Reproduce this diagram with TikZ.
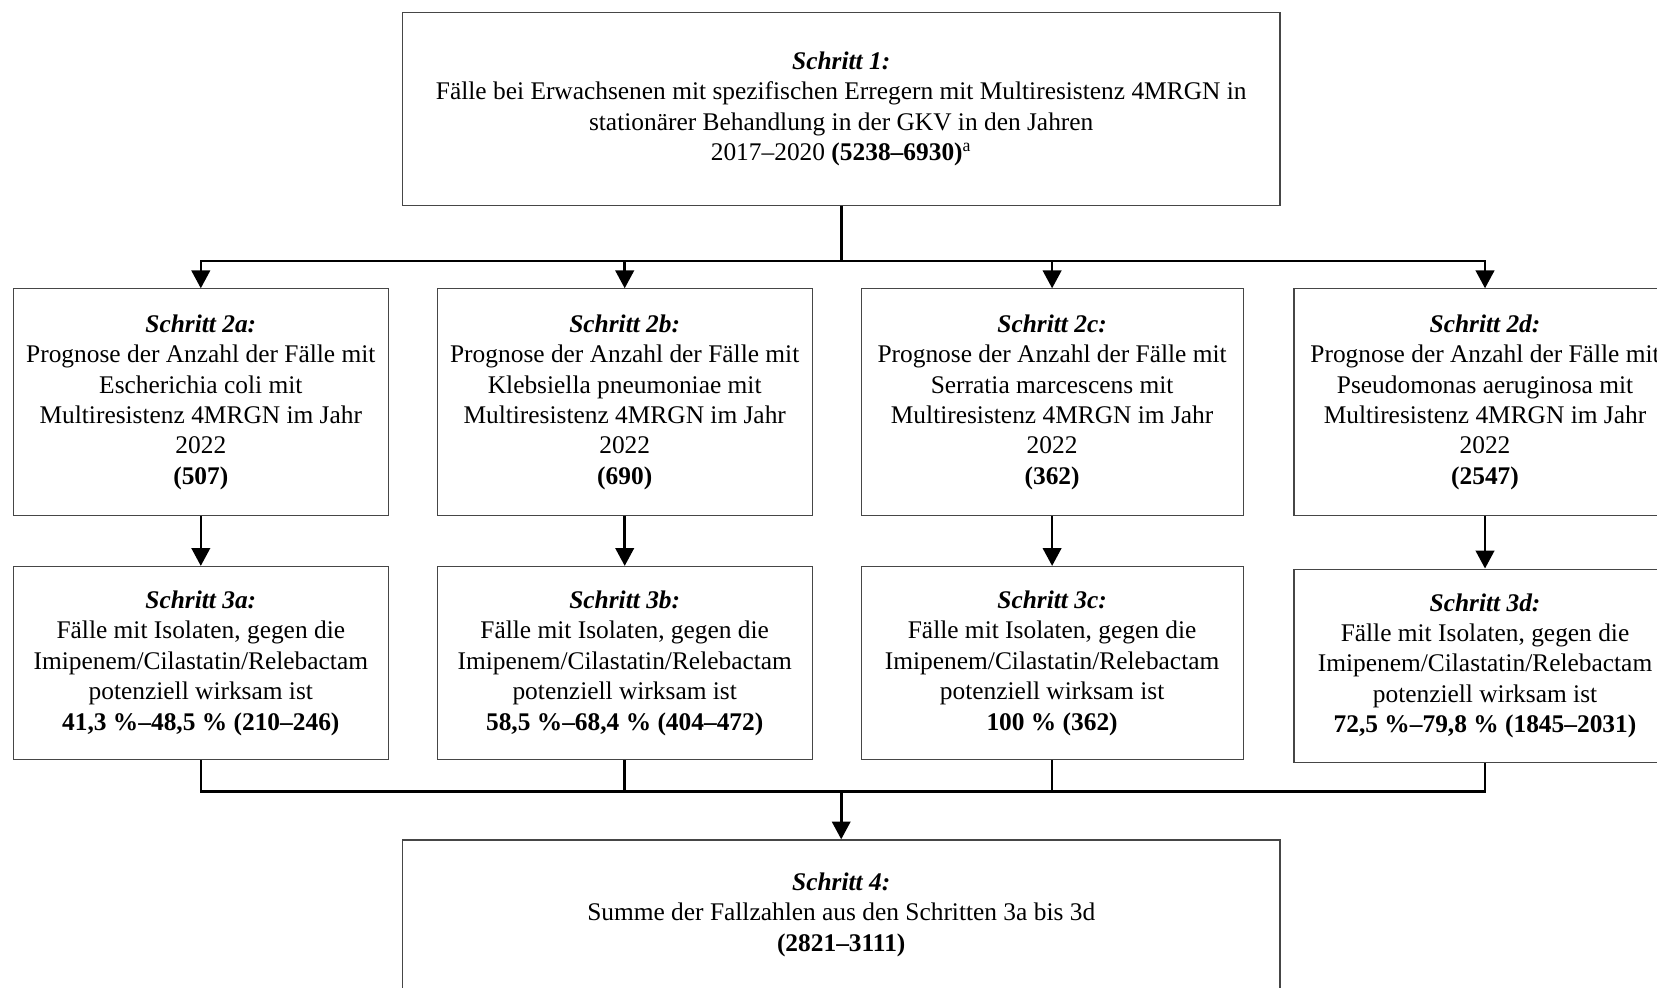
\documentclass[tikz,border=0pt]{standalone}
\usepackage{fontspec}
\setmainfont{Liberation Serif}
\usepackage{tikz}
\usetikzlibrary{positioning, arrows.meta, calc}
\definecolor{frame}{RGB}{70,70,70}

\begin{document}
\begin{tikzpicture}[
  node distance=24.85pt and 23.85pt,
  box/.style={draw=frame, line width=0.6pt, inner sep=2pt, align=center,
              font=\fontsize{12.7pt}{15.2pt}\selectfont},
  bigbox/.style={box, minimum width=438.85pt},
  midbox/.style={box, minimum width=187.5pt, minimum height=113.35pt},
  lowbox/.style={box, minimum width=187.5pt, minimum height=96.65pt},
  wide/.style={minimum width=191pt},
  line/.style={line width=1.3pt, black},
  arr/.style={line, -{Triangle[length=8.9pt, width=9.2pt]}},
]
  \useasboundingbox (0,0) rectangle (828.5pt,-494pt);
  \clip (0,0) rectangle (828.5pt,-494pt);

  \node[bigbox, minimum height=96.35pt, anchor=north] (s1) at (420.6pt,-6pt)
    {\textbf{\textit{Schritt 1:}}\\Fälle bei Erwachsenen mit spezifischen Erregern mit Multiresistenz 4MRGN in\\stationärer Behandlung in der GKV in den Jahren\\2017–2020 \textbf{(5238–6930)}\textsuperscript{a}};

  \node[midbox, anchor=north west] (s2a) at (6.35pt,-144.15pt)
    {\textbf{\textit{Schritt 2a:}}\\Prognose der Anzahl der Fälle mit\\Escherichia coli mit\\Multiresistenz 4MRGN im Jahr\\2022\\\textbf{(507)}};
  \node[midbox, right=of s2a] (s2b)
    {\textbf{\textit{Schritt 2b:}}\\Prognose der Anzahl der Fälle mit\\Klebsiella pneumoniae mit\\Multiresistenz 4MRGN im Jahr\\2022\\\textbf{(690)}};
  \node[midbox, wide, right=of s2b] (s2c)
    {\textbf{\textit{Schritt 2c:}}\\Prognose der Anzahl der Fälle mit\\Serratia marcescens mit\\Multiresistenz 4MRGN im Jahr\\2022\\\textbf{(362)}};
  \node[midbox, wide, right=24.85pt of s2c] (s2d)
    {\textbf{\textit{Schritt 2d:}}\\Prognose der Anzahl der Fälle mit\\Pseudomonas aeruginosa mit\\Multiresistenz 4MRGN im Jahr\\2022\\\textbf{(2547)}};

  \node[lowbox, below=of s2a] (s3a)
    {\textbf{\textit{Schritt 3a:}}\\Fälle mit Isolaten, gegen die\\Imipenem/Cilastatin/Relebactam\\potenziell wirksam ist\\\textbf{41,3 \%–48,5 \% (210–246)}};
  \node[lowbox, below=of s2b] (s3b)
    {\textbf{\textit{Schritt 3b:}}\\Fälle mit Isolaten, gegen die\\Imipenem/Cilastatin/Relebactam\\potenziell wirksam ist\\\textbf{58,5 \%–68,4 \% (404–472)}};
  \node[lowbox, wide, below=of s2c] (s3c)
    {\textbf{\textit{Schritt 3c:}}\\Fälle mit Isolaten, gegen die\\Imipenem/Cilastatin/Relebactam\\potenziell wirksam ist\\\textbf{100 \% (362)}};
  \node[lowbox, wide, below=26.15pt of s2d] (s3d)
    {\textbf{\textit{Schritt 3d:}}\\Fälle mit Isolaten, gegen die\\Imipenem/Cilastatin/Relebactam\\potenziell wirksam ist\\\textbf{72,5 \%–79,8 \% (1845–2031)}};

  \node[bigbox, minimum height=74.7pt, below=316.7pt of s1] (s4)
    {\textbf{\textit{Schritt 4:}}\\Summe der Fallzahlen aus den Schritten 3a bis 3d\\\textbf{(2821–3111)}};

  \coordinate (split) at ($(s1.south)+(0,-27.65pt)$);
  \coordinate (join) at ($(s4.north)+(0,23.8pt)$);

  \draw[line] (s1.south) -- (split);
  \foreach \n in {a,b,c,d} {
    \draw[arr] (split) -| (s2\n.north);
    \draw[arr] (s2\n.south) -- (s3\n.north);
    \draw[line] (s3\n.south) |- (join);
  }
  \draw[arr] (join) -- (s4.north);
\end{tikzpicture}
\end{document}
